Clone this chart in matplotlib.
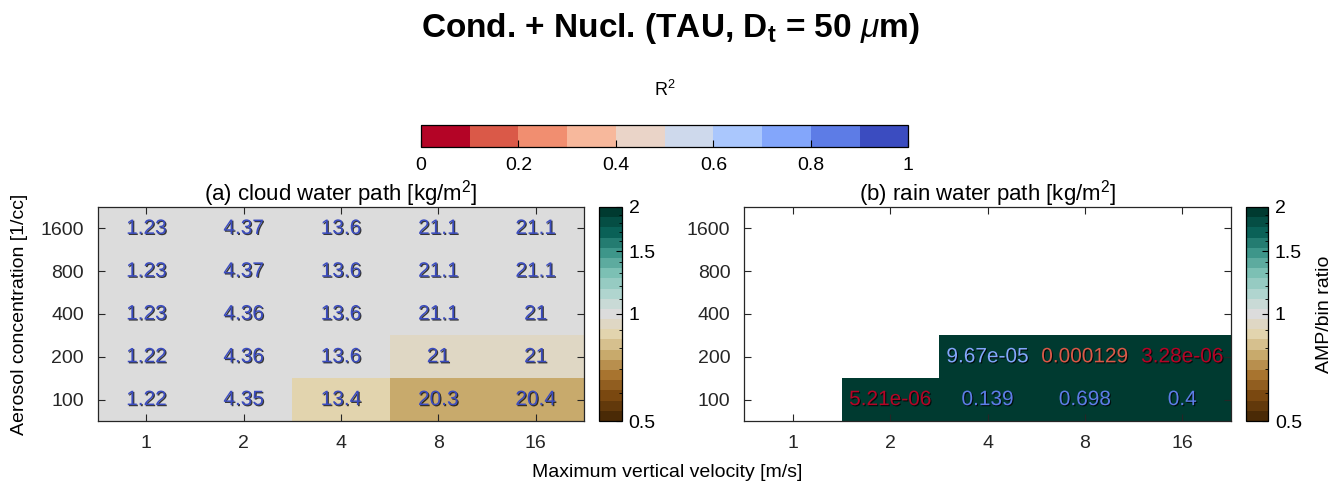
import matplotlib
matplotlib.use("Agg")
import matplotlib.pyplot as plt
import matplotlib.patheffects as pe
from matplotlib.cm import ScalarMappable
from matplotlib.colors import LinearSegmentedColormap, BoundaryNorm, LogNorm
from matplotlib.ticker import FixedLocator, NullFormatter
import numpy as np

plt.rcParams['font.family'] = ['Liberation Sans', 'DejaVu Sans']
plt.rcParams['mathtext.fontset'] = 'custom'
plt.rcParams['mathtext.rm'] = 'Liberation Sans'
plt.rcParams['mathtext.it'] = 'Liberation Sans:italic'
plt.rcParams['mathtext.bf'] = 'Liberation Sans:bold'

nan = np.nan

w_max = [1, 2, 4, 8, 16]
aerosol = [100, 200, 400, 800, 1600]

# rows: aerosol 100 -> 1600, cols: w_max 1 -> 16
cwp_val = [[1.22, 4.35, 13.4, 20.3, 20.4],
           [1.22, 4.36, 13.6, 21, 21],
           [1.23, 4.36, 13.6, 21.1, 21],
           [1.23, 4.37, 13.6, 21.1, 21.1],
           [1.23, 4.37, 13.6, 21.1, 21.1]]
cwp_r2 = [[0.97, 0.97, 0.97, 0.97, 0.97],
          [0.97, 0.97, 0.97, 0.97, 0.97],
          [0.97, 0.97, 0.97, 0.97, 0.97],
          [0.97, 0.97, 0.97, 0.97, 0.97],
          [0.97, 0.97, 0.97, 0.97, 0.97]]
cwp_ratio = [[1.0, 1.0, 0.88, 0.78, 0.78],
             [1.0, 1.0, 1.0, 0.94, 0.94],
             [1.0, 1.0, 1.0, 1.0, 1.0],
             [1.0, 1.0, 1.0, 1.0, 1.0],
             [1.0, 1.0, 1.0, 1.0, 1.0]]

rwp_val = [[nan, 5.21e-06, 0.139, 0.698, 0.4],
           [nan, nan, 9.67e-05, 0.000129, 3.28e-06],
           [nan, nan, nan, nan, nan],
           [nan, nan, nan, nan, nan],
           [nan, nan, nan, nan, nan]]
rwp_r2 = [[nan, 0.05, 0.85, 0.85, 0.85],
          [nan, nan, 0.75, 0.15, 0.05],
          [nan, nan, nan, nan, nan],
          [nan, nan, nan, nan, nan],
          [nan, nan, nan, nan, nan]]
rwp_ratio = [[nan, 3.0, 3.0, 3.0, 3.0],
             [nan, nan, 3.0, 3.0, 3.0],
             [nan, nan, nan, nan, nan],
             [nan, nan, nan, nan, nan],
             [nan, nan, nan, nan, nan]]

# brown - grey - teal, 21 steps on a log scale 0.5..2
ratio_cmap = LinearSegmentedColormap.from_list(
    'brgr', [(0.0, '#4a2a06'), (0.1, '#7a4810'), (0.2, '#a8742f'),
             (0.3, '#c8aa6c'), (0.35, '#d6c08e'), (0.4, '#e2d4ae'),
             (0.45, '#dfd7c4'), (0.5, '#dcdcdc'), (0.55, '#c9dad6'),
             (0.6, '#b0d5cf'), (0.7, '#7cc0b4'), (0.8, '#3e968a'),
             (0.9, '#0a6157'), (1.0, '#003a30')]).resampled(21)
ratio_cmap.set_over('#003a30')
ratio_cmap.set_bad('white')
ratio_norm = LogNorm(vmin=0.5, vmax=2)

r2_cmap = plt.get_cmap('coolwarm_r').resampled(10)
r2_norm = BoundaryNorm(np.linspace(0, 1, 11), 10)

FS = 14
CELL_FS = 15
shadow = [pe.SimplePatchShadow(offset=(0.8, -0.8), shadow_rgbFace='black', alpha=0.75), pe.Normal()]

fig = plt.figure(figsize=(13.38, 4.86), dpi=100)
W, H = 1338.0, 486.0


def box(x0, y0, x1, y1):
    return [x0 / W, 1 - y1 / H, (x1 - x0) / W, (y1 - y0) / H]


def draw_panel(ax, cax, vals, r2, ratio, title, cb_label=None):
    data = np.ma.masked_invalid(np.array(ratio, dtype=float))
    mesh = ax.pcolormesh(np.arange(len(w_max) + 1), np.arange(len(aerosol) + 1),
                         data, cmap=ratio_cmap, norm=ratio_norm)
    for i in range(len(aerosol)):
        for j in range(len(w_max)):
            v = vals[i][j]
            if np.isnan(v):
                continue
            ax.text(j + 0.5, i + 0.5, '%.3g' % v, ha='center', va='center',
                    fontsize=CELL_FS, color=r2_cmap(r2_norm(r2[i][j])),
                    path_effects=shadow)
    ax.set_xlim(0, len(w_max))
    ax.set_ylim(0, len(aerosol))
    ax.set_xticks(np.arange(len(w_max)) + 0.5)
    ax.set_xticklabels([str(w) for w in w_max])
    ax.set_yticks(np.arange(len(aerosol)) + 0.5)
    ax.set_yticklabels([str(a) for a in aerosol])
    ax.tick_params(direction='in', length=5, width=0.8, labelsize=FS, pad=10,
                   top=True, right=True, colors='#262626')
    for s in ax.spines.values():
        s.set_linewidth(0.9)
        s.set_color('#262626')
    ax.set_title(title, fontsize=16, pad=5)

    cb = fig.colorbar(mesh, cax=cax)
    cb.ax.yaxis.set_major_locator(FixedLocator([0.5, 1, 1.5, 2]))
    cb.ax.yaxis.set_ticklabels(['0.5', '1', '1.5', '2'])
    cb.ax.yaxis.set_minor_locator(FixedLocator([0.6, 0.7, 0.8, 0.9, 1.1, 1.2, 1.3, 1.4,
                                                1.6, 1.7, 1.8, 1.9]))
    cb.ax.yaxis.set_minor_formatter(NullFormatter())
    cb.ax.tick_params(which='major', direction='in', length=4, width=0.8, labelsize=FS, pad=5)
    cb.ax.tick_params(which='minor', direction='in', length=2.5, width=0.6)
    cb.outline.set_linewidth(0.9)
    if cb_label:
        cb.set_label(cb_label, fontsize=FS, labelpad=10)
    return cb


ax1 = fig.add_axes(box(97.7, 207, 584.3, 421))
cax1 = fig.add_axes(box(599.3, 207, 621.7, 421))
ax2 = fig.add_axes(box(744.3, 207, 1231, 421))
cax2 = fig.add_axes(box(1245.7, 207, 1268, 421))

draw_panel(ax1, cax1, cwp_val, cwp_r2, cwp_ratio, '(a) cloud water path [kg/m$^2$]')
draw_panel(ax2, cax2, rwp_val, rwp_r2, rwp_ratio, '(b) rain water path [kg/m$^2$]',
           cb_label='AMP/bin ratio')

# R^2 colour key on top
rcax = fig.add_axes(box(421, 125, 908.3, 147.3))
rcb = fig.colorbar(ScalarMappable(norm=r2_norm, cmap=r2_cmap), cax=rcax,
                   orientation='horizontal')
rcb.set_ticks([0, 0.2, 0.4, 0.6, 0.8, 1])
rcb.set_ticklabels(['0', '0.2', '0.4', '0.6', '0.8', '1'])
rcb.ax.tick_params(direction='in', length=5, width=0.8, labelsize=FS, pad=7)
rcb.ax.minorticks_off()
rcb.outline.set_linewidth(0.9)
fig.text(664.5 / W, 1 - 90 / H, 'R$^2$', ha='center', va='center', fontsize=FS - 1)

fig.text(670 / W, 1 - 29 / H, r'Cond. + Nucl. (TAU, D$_{\mathbf{t}}$ = 50 $\mu$m)',
         ha='center', va='center', fontsize=24, fontweight='bold')
fig.text(667 / W, 1 - 472 / H, 'Maximum vertical velocity [m/s]', ha='center',
         va='center', fontsize=FS)
fig.text(20 / W, 1 - 314 / H, 'Aerosol concentration [1/cc]', ha='center',
         va='center', rotation=90, fontsize=FS)

fig.savefig('out.png', dpi=100)
